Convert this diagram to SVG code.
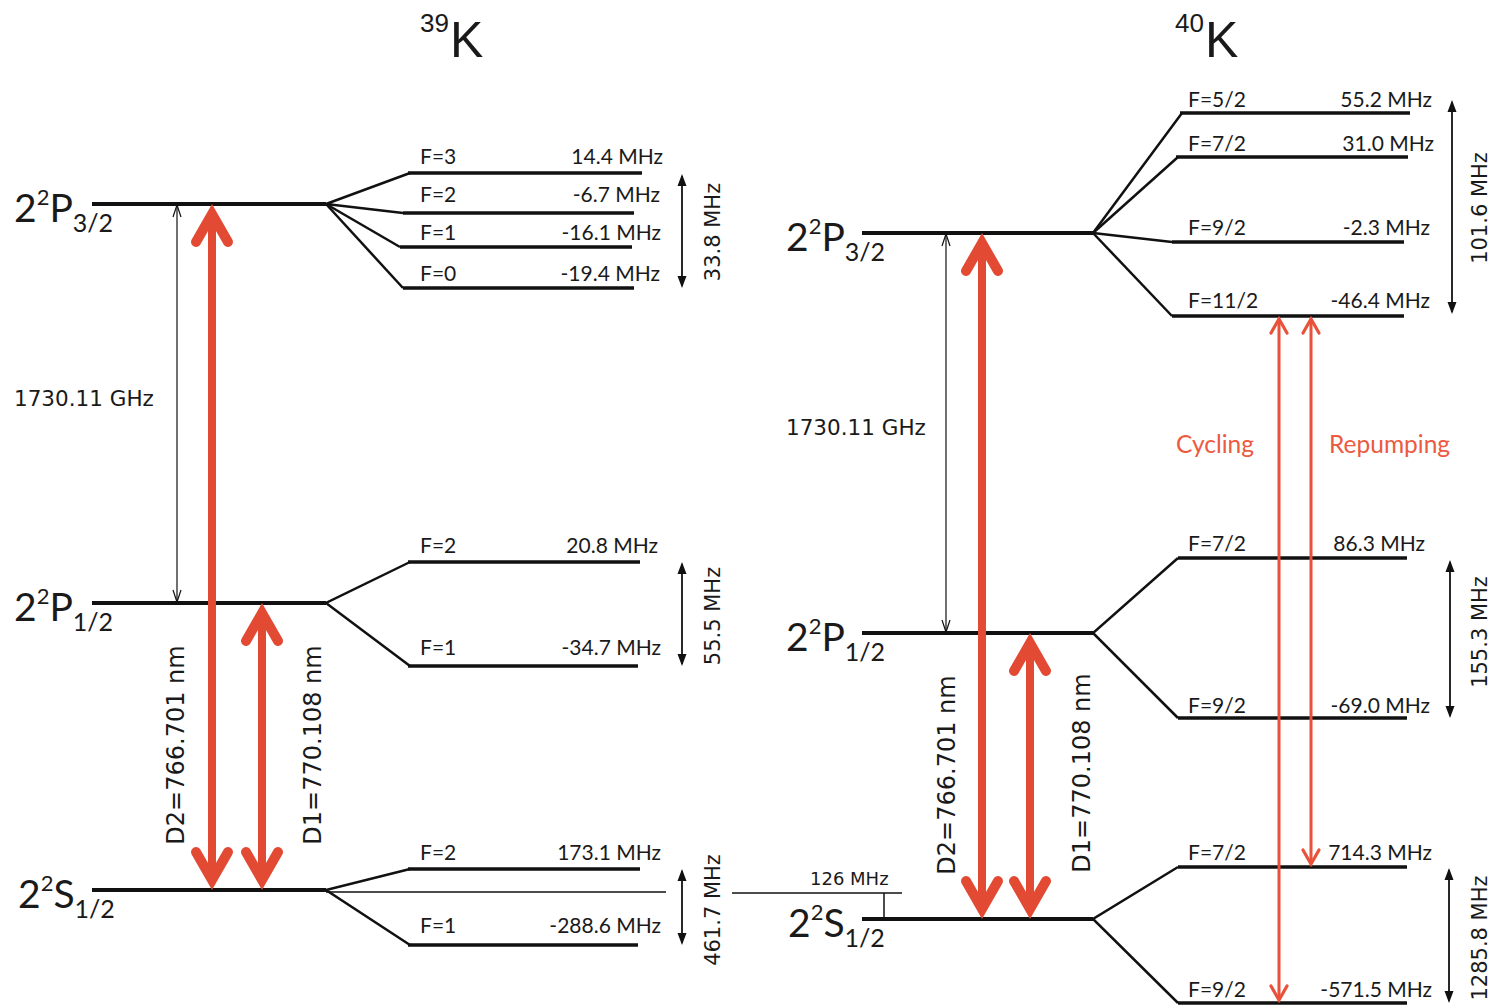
<svg xmlns="http://www.w3.org/2000/svg" width="1493" height="1008" viewBox="0 0 1493 1008">
<style>
  .bg{fill:#ffffff}
  .lvl{stroke:#111;stroke-width:4;fill:none}
  .hf{stroke:#111;stroke-width:3.5;fill:none}
  .fan{stroke:#111;stroke-width:2.5;fill:none}
  .thin{stroke:#111;stroke-width:1.5;fill:none}
  .gap{stroke:#111;stroke-width:1.2;fill:none;marker-start:url(#thinHead);marker-end:url(#thinHead)}
  .span{stroke:#111;stroke-width:1.8;fill:none;marker-start:url(#tri);marker-end:url(#tri)}
  .laser{stroke:#e34a33;stroke-width:8;fill:none;marker-start:url(#bigHead);marker-end:url(#bigHead)}
  .pump{stroke:#e8513a;stroke-width:3;fill:none;marker-start:url(#smallHead);marker-end:url(#smallHead)}
  text{fill:#1a1a1a}
  .ttl{font-family:"Liberation Sans",Arial,sans-serif;font-size:50px}
  .ttlsup{font-size:26px}
  .name{font-family:Lato,"Open Sans",sans-serif;font-size:39px}
  .sup{font-size:22px}
  .sub{font-size:25px}
  .f{font-family:Lato,"Open Sans",sans-serif;font-size:21px}
  .v{font-family:Lato,"Open Sans",sans-serif;font-size:21px;text-anchor:end}
  .rot{font-family:"DejaVu Sans",Verdana,sans-serif;font-size:21px;text-anchor:middle}
  .d{font-family:"DejaVu Sans",Verdana,sans-serif;font-size:24px;text-anchor:middle}
  .ghz{font-family:"DejaVu Sans",Verdana,sans-serif;font-size:21.5px}
  .small{font-family:"DejaVu Sans",Verdana,sans-serif;font-size:18px}
  .redt{font-family:Lato,"Open Sans",sans-serif;font-size:24.5px;fill:#ec5a40}
</style>
<defs>
  <marker id="bigHead" markerUnits="userSpaceOnUse" orient="auto-start-reverse" overflow="visible" markerWidth="1" markerHeight="1" refX="0" refY="0">
    <path d="M-28,-16 L0,0 L-28,16" fill="none" stroke="#e34a33" stroke-width="10" stroke-linecap="round" stroke-linejoin="miter"/>
  </marker>
  <marker id="smallHead" markerUnits="userSpaceOnUse" orient="auto-start-reverse" overflow="visible" markerWidth="1" markerHeight="1" refX="0" refY="0">
    <path d="M-14,-8 L0,0 L-14,8" fill="none" stroke="#e8513a" stroke-width="3.2" stroke-linecap="round" stroke-linejoin="miter"/>
  </marker>
  <marker id="tri" markerUnits="userSpaceOnUse" orient="auto-start-reverse" overflow="visible" markerWidth="1" markerHeight="1" refX="0" refY="0">
    <path d="M2,0 L-10,-4.5 L-10,4.5 Z" fill="#111"/>
  </marker>
  <marker id="thinHead" markerUnits="userSpaceOnUse" orient="auto-start-reverse" overflow="visible" markerWidth="1" markerHeight="1" refX="0" refY="0">
    <path d="M-12,-4 L0,0 L-12,4" fill="none" stroke="#111" stroke-width="1.2"/>
  </marker>
</defs>
<rect class="bg" x="0" y="0" width="1493" height="1008"/>

<!-- Titles -->
<g id="title-39K"><text class="ttl" x="420" y="57"><tspan class="ttlsup" dy="-25">39</tspan><tspan dy="25" dx="1">K</tspan></text></g>
<g id="title-40K"><text class="ttl" x="1175" y="57"><tspan class="ttlsup" dy="-25">40</tspan><tspan dy="25" dx="1">K</tspan></text></g>

<!-- ===== 39K ===== -->
<g id="K39-P32">
  <line class="lvl" x1="92" y1="204" x2="326" y2="204"/>
  <text class="name" x="14" y="222">2<tspan class="sup" dy="-17">2</tspan><tspan dy="17">P</tspan><tspan class="sub" dy="10">3/2</tspan></text>
</g>
<g id="K39-P32-F3">
  <line class="hf" x1="408" y1="173" x2="642" y2="173"/>
  <text class="f" x="420" y="164">F=3</text><text class="v" x="663" y="164">14.4 MHz</text>
</g>
<g id="K39-P32-F2">
  <line class="hf" x1="403" y1="213" x2="634" y2="213"/>
  <text class="f" x="420" y="202">F=2</text><text class="v" x="660" y="202">-6.7 MHz</text>
</g>
<g id="K39-P32-F1">
  <line class="hf" x1="400" y1="247" x2="632" y2="247"/>
  <text class="f" x="420" y="240">F=1</text><text class="v" x="661" y="240">-16.1 MHz</text>
</g>
<g id="K39-P32-F0">
  <line class="hf" x1="403" y1="288" x2="634" y2="288"/>
  <text class="f" x="420" y="281">F=0</text><text class="v" x="660" y="281">-19.4 MHz</text>
</g>

<g id="K39-P12">
  <line class="lvl" x1="92" y1="603" x2="326" y2="603"/>
  <text class="name" x="14" y="621">2<tspan class="sup" dy="-17">2</tspan><tspan dy="17">P</tspan><tspan class="sub" dy="10">1/2</tspan></text>
</g>
<g id="K39-P12-F2">
  <line class="hf" x1="408" y1="562" x2="640" y2="562"/>
  <text class="f" x="420" y="553">F=2</text><text class="v" x="658" y="553">20.8 MHz</text>
</g>
<g id="K39-P12-F1">
  <line class="hf" x1="408" y1="666" x2="638" y2="666"/>
  <text class="f" x="420" y="655">F=1</text><text class="v" x="661" y="655">-34.7 MHz</text>
</g>

<g id="K39-S12">
  <line class="lvl" x1="92" y1="890" x2="326" y2="890"/>
  <text class="name" x="18" y="908">2<tspan class="sup" dy="-17">2</tspan><tspan dy="17">S</tspan><tspan class="sub" dy="10">1/2</tspan></text>
</g>
<g id="K39-S12-F2">
  <line class="hf" x1="408" y1="869" x2="640" y2="869"/>
  <text class="f" x="420" y="860">F=2</text><text class="v" x="661" y="860">173.1 MHz</text>
</g>
<g id="K39-S12-F1">
  <line class="hf" x1="408" y1="945" x2="638" y2="945"/>
  <text class="f" x="420" y="933">F=1</text><text class="v" x="661" y="933">-288.6 MHz</text>
</g>

<!-- ===== 40K ===== -->
<g id="K40-P32">
  <line class="lvl" x1="862" y1="233" x2="1093" y2="233"/>
  <text class="name" x="786" y="251">2<tspan class="sup" dy="-17">2</tspan><tspan dy="17">P</tspan><tspan class="sub" dy="10">3/2</tspan></text>
</g>
<g id="K40-P32-F52">
  <line class="hf" x1="1180" y1="113" x2="1410" y2="113"/>
  <text class="f" x="1188" y="107">F=5/2</text><text class="v" x="1432" y="107">55.2 MHz</text>
</g>
<g id="K40-P32-F72">
  <line class="hf" x1="1176" y1="157" x2="1408" y2="157"/>
  <text class="f" x="1188" y="151">F=7/2</text><text class="v" x="1434" y="151">31.0 MHz</text>
</g>
<g id="K40-P32-F92">
  <line class="hf" x1="1172" y1="242" x2="1404" y2="242"/>
  <text class="f" x="1188" y="235">F=9/2</text><text class="v" x="1430" y="235">-2.3 MHz</text>
</g>
<g id="K40-P32-F112">
  <line class="hf" x1="1172" y1="316" x2="1404" y2="316"/>
  <text class="f" x="1188" y="308">F=11/2</text><text class="v" x="1430" y="308">-46.4 MHz</text>
</g>

<g id="K40-P12">
  <line class="lvl" x1="862" y1="633" x2="1093" y2="633"/>
  <text class="name" x="786" y="651">2<tspan class="sup" dy="-17">2</tspan><tspan dy="17">P</tspan><tspan class="sub" dy="10">1/2</tspan></text>
</g>
<g id="K40-P12-F72">
  <line class="hf" x1="1178" y1="558" x2="1407" y2="558"/>
  <text class="f" x="1188" y="551">F=7/2</text><text class="v" x="1425" y="551">86.3 MHz</text>
</g>
<g id="K40-P12-F92">
  <line class="hf" x1="1178" y1="718" x2="1407" y2="718"/>
  <text class="f" x="1188" y="713">F=9/2</text><text class="v" x="1430" y="713">-69.0 MHz</text>
</g>

<g id="K40-S12">
  <line class="lvl" x1="862" y1="919" x2="1093" y2="919"/>
  <text class="name" x="788" y="937">2<tspan class="sup" dy="-17">2</tspan><tspan dy="17">S</tspan><tspan class="sub" dy="10">1/2</tspan></text>
</g>
<g id="K40-S12-F72">
  <line class="hf" x1="1178" y1="867" x2="1407" y2="867"/>
  <text class="f" x="1188" y="860">F=7/2</text><text class="v" x="1432" y="860">714.3 MHz</text>
</g>
<g id="K40-S12-F92">
  <line class="hf" x1="1178" y1="1003" x2="1407" y2="1003"/>
  <text class="f" x="1188" y="997">F=9/2</text><text class="v" x="1432" y="997">-571.5 MHz</text>
</g>

<g id="isotope-shift">
  <line class="thin" x1="326" y1="892" x2="666" y2="892"/>
  <line class="thin" x1="732" y1="893" x2="902" y2="893"/>
  <line class="thin" x1="884" y1="893" x2="884" y2="919"/>
  <text class="small" x="810" y="885">126 MHz</text>
</g>

<!-- Connectors -->
<g id="connectors">
  <polyline class="fan" points="410,173 326,204 403,213"/>
  <polyline class="fan" points="326,204 400,247"/>
  <polyline class="fan" points="326,204 403,288"/>
  <polyline class="fan" points="410,562 326,603 410,666"/>
  <polyline class="fan" points="410,869 326,890 410,945"/>
  <polyline class="fan" points="1182,113 1093,233 1172,242"/>
  <polyline class="fan" points="1093,233 1178,157"/>
  <polyline class="fan" points="1093,233 1172,316"/>
  <polyline class="fan" points="1178,558 1093,633 1178,718"/>
  <polyline class="fan" points="1178,867 1093,919 1178,1003"/>

  <line class="gap" x1="177" y1="205" x2="177" y2="602"/>
  <line class="gap" x1="946" y1="234" x2="946" y2="632"/>

  <line class="span" x1="682" y1="176" x2="682" y2="286"/>
  <line class="span" x1="682" y1="564" x2="682" y2="664"/>
  <line class="span" x1="682" y1="871" x2="682" y2="943"/>
  <line class="span" x1="1452" y1="102" x2="1452" y2="312"/>
  <line class="span" x1="1450" y1="562" x2="1450" y2="716"/>
  <line class="span" x1="1449" y1="870" x2="1449" y2="1001"/>

  <line class="laser" x1="212" y1="214" x2="212" y2="880"/>
  <line class="laser" x1="262" y1="613" x2="262" y2="880"/>
  <line class="laser" x1="982" y1="243" x2="982" y2="909"/>
  <line class="laser" x1="1030" y1="643" x2="1030" y2="909"/>

  <line class="pump" x1="1279" y1="319" x2="1279" y2="1000"/>
  <line class="pump" x1="1311" y1="319" x2="1311" y2="864"/>
</g>

<!-- Labels -->
<g id="labels">
  <text class="ghz" x="14" y="406">1730.11 GHz</text>
  <text class="ghz" x="786" y="435">1730.11 GHz</text>
  <text class="d" transform="translate(184,745) rotate(-90)">D2=766.701 nm</text>
  <text class="d" transform="translate(321,745) rotate(-90)">D1=770.108 nm</text>
  <text class="d" transform="translate(955,775) rotate(-90)">D2=766.701 nm</text>
  <text class="d" transform="translate(1090,773) rotate(-90)">D1=770.108 nm</text>
  <text class="rot" transform="translate(720,232) rotate(-90)">33.8 MHz</text>
  <text class="rot" transform="translate(720,616) rotate(-90)">55.5 MHz</text>
  <text class="rot" transform="translate(720,910) rotate(-90)">461.7 MHz</text>
  <text class="rot" transform="translate(1487,208) rotate(-90)">101.6 MHz</text>
  <text class="rot" transform="translate(1487,632) rotate(-90)">155.3 MHz</text>
  <text class="rot" transform="translate(1487,938) rotate(-90)">1285.8 MHz</text>
  <text class="redt" x="1176" y="453">Cycling</text>
  <text class="redt" x="1329" y="453">Repumping</text>
</g>
</svg>
